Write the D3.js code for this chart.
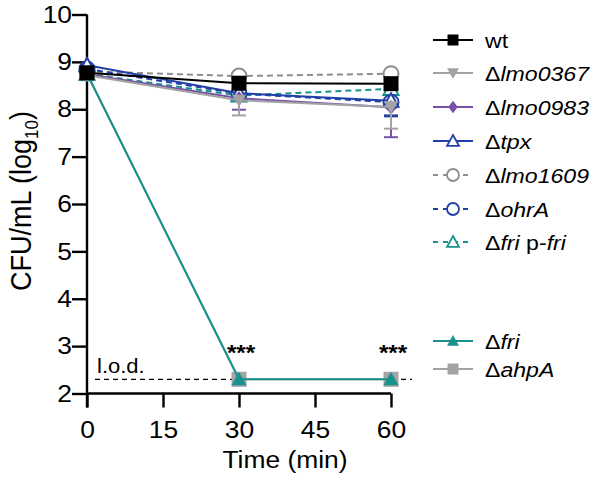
<!DOCTYPE html>
<html><head><meta charset="utf-8">
<script src="https://cdn.jsdelivr.net/npm/d3@7"></script>
<style>body{margin:0;background:#fff}svg{font-family:"Liberation Sans",Arial,sans-serif}</style>
</head><body><svg id="c" width="600" height="480"></svg>
<script>
const times = [0, 30, 60];
const xTicks = [0, 15, 30, 45, 60];
const yTicks = [2, 3, 4, 5, 6, 7, 8, 9, 10];
const seriesKeys = ["wt","lmo0367","lmo0983","tpx","lmo1609","ohrA","friComp","fri","ahpA"];
const wt      = [8.77, 8.55, 8.54];
const lmo0367 = [8.72, 8.19, 8.05];
const lmo0983 = [8.74, 8.23, 8.04];
const tpx     = [8.93, 8.34, 8.18];
const lmo1609 = [8.80, 8.70, 8.75];
const ohrA    = [8.85, 8.33, 8.15];
const friComp = [8.75, 8.29, 8.43];
const fri     = [8.75, 2.3, 2.3];
const ahpA    = [8.75, 2.3, 2.3];
const sd = {
  wt:[0.05,0.08,0.08], lmo0367:[0.05,0.32,0.46], lmo0983:[0.05,0.24,0.63], tpx:[0.05,0.12,0.33],
  lmo1609:[0.03,0.05,0.05], ohrA:[0.05,0.1,0.28], friComp:[0.03,0.08,0.1], fri:[0,0,0], ahpA:[0,0,0]
};
const values = {wt, lmo0367, lmo0983, tpx, lmo1609, ohrA, friComp, fri, ahpA};
const labels = {
  wt:[["wt",false]], lmo0367:[["Δ",false],["lmo0367",true]], lmo0983:[["Δ",false],["lmo0983",true]],
  tpx:[["Δ",false],["tpx",true]], lmo1609:[["Δ",false],["lmo1609",true]], ohrA:[["Δ",false],["ohrA",true]],
  friComp:[["Δ",false],["fri",true],[" p-",false],["fri",true]], fri:[["Δ",false],["fri",true]], ahpA:[["Δ",false],["ahpA",true]]
};
const lod = 2.3;
const sigTimes = [30, 60];
const sigLabel = "***";

const style = {
  wt:{color:"#000000", dash:null, shape:"square", fill:true},
  lmo0367:{color:"#a3a3a3", dash:null, shape:"tridown", fill:true},
  lmo0983:{color:"#7751a8", dash:null, shape:"diamond", fill:true},
  tpx:{color:"#2140a6", dash:null, shape:"triup", fill:false},
  lmo1609:{color:"#8e8e8e", dash:"6,4", shape:"circle", fill:false},
  ohrA:{color:"#2140a6", dash:"6,4", shape:"circle", fill:false},
  friComp:{color:"#17928c", dash:"6,4", shape:"triup", fill:false},
  fri:{color:"#17928c", dash:null, shape:"triup", fill:true},
  ahpA:{color:"#a3a3a3", dash:null, shape:"square", fill:true}
};
const SX = 1.1; // horizontal stretch of lettering seen in the reference

const svg = d3.select("#c");
const x = d3.scaleLinear().domain([0,60]).range([87,391]);
const y = d3.scaleLinear().domain([2,10]).range([393.5,14.5]);

function shapePath(shape, s){
  const h=s/2;
  if(shape==="square") return `M${-h},${-h}h${s}v${s}h${-s}Z`;
  if(shape==="circle") return d3.symbol(d3.symbolCircle, Math.PI*h*h)();
  if(shape==="diamond") return `M0,${-h*1.05}L${h*0.8},0L0,${h*1.05}L${-h*0.8},0Z`;
  if(shape==="triup") return `M0,${-h}L${h},${h*0.8}L${-h},${h*0.8}Z`;
  if(shape==="tridown") return `M0,${h}L${h},${-h*0.8}L${-h},${-h*0.8}Z`;
}
const markerSize = {square:15, circle:15, diamond:14, triup:15, tridown:14};

function label(px, py, size, anchor){
  return svg.append("text").attr("transform",`translate(${px},${py}) scale(${SX},1)`)
    .attr("font-size",size).attr("text-anchor",anchor||"start");
}

// l.o.d.
svg.append("line").attr("x1",x(0)+8).attr("x2",412).attr("y1",y(lod)).attr("y2",y(lod))
  .attr("stroke","#000").attr("stroke-width",1.2).attr("stroke-dasharray","5,4");
label(97, 373, 20).text("l.o.d.");

// axes
const yAxis = svg.append("g").attr("transform",`translate(${x(0)},0)`)
  .call(d3.axisLeft(y).tickValues(yTicks).tickSize(15).tickPadding(1).tickFormat(d3.format("d")));
const xAxis = svg.append("g").attr("transform",`translate(0,${y(2)})`)
  .call(d3.axisBottom(x).tickValues(xTicks).tickSize(14).tickPadding(13).tickFormat(d3.format("d")));
[yAxis,xAxis].forEach(g=>{
  g.select(".domain").attr("stroke-width",2.4);
  g.selectAll(".tick line").attr("stroke-width",2.4);
  g.selectAll("text").attr("font-size",24).attr("fill","#000").attr("font-family","Liberation Sans, Arial, sans-serif")
    .attr("transform",`scale(${SX},1)`);
});
yAxis.selectAll(".tick text").attr("x",-15/SX);
yAxis.select(".domain").attr("d",`M0,${y(10)}V${y(2)+14}`);
xAxis.select(".domain").attr("d",`M${x(0)},0H${x(60)}`);

// axis titles
label(285, 468, 24, "middle").text("Time (min)");
const yt = svg.append("text").attr("transform",`translate(31,201) scale(${SX},1) rotate(-90)`)
  .attr("text-anchor","middle").attr("font-size",27);
yt.append("tspan").text("CFU/mL (log");
yt.append("tspan").attr("font-size",17).attr("dy",6).text("10");
yt.append("tspan").attr("dy",-6).text(")");

// series
const drawOrder = ["ahpA","fri","lmo1609","friComp","ohrA","tpx","lmo0983","lmo0367","wt"];
const line = d3.line().x((d,i)=>x(times[i])).y(d=>y(d));
drawOrder.forEach(k=>{
  const st = style[k], v = values[k];
  const g = svg.append("g");
  v.forEach((d,i)=>{
    if(sd[k][i]>0){
      g.append("line").attr("x1",x(times[i])).attr("x2",x(times[i])).attr("y1",y(d)).attr("y2",y(d-sd[k][i]))
        .attr("stroke",st.color).attr("stroke-width",2);
      g.append("line").attr("x1",x(times[i])-7).attr("x2",x(times[i])+7).attr("y1",y(d-sd[k][i])).attr("y2",y(d-sd[k][i]))
        .attr("stroke",st.color).attr("stroke-width",2);
    }
  });
  g.append("path").attr("d",line(v)).attr("fill","none").attr("stroke",st.color).attr("stroke-width",2)
    .attr("stroke-dasharray",st.dash);
  v.forEach((d,i)=>{
    g.append("path").attr("d",shapePath(st.shape,markerSize[st.shape]))
      .attr("transform",`translate(${x(times[i])},${y(d)})`)
      .attr("fill",st.fill?st.color:"#fff").attr("stroke",st.color).attr("stroke-width",st.fill?0:2);
  });
});

// significance
sigTimes.forEach(t=>{
  label(x(t)+2, y(lod)-19, 22, "middle").attr("font-weight","bold").text(sigLabel);
});

// legend
const legendY = {wt:40,lmo0367:73,lmo0983:107,tpx:141,lmo1609:175,ohrA:209,friComp:242,fri:341,ahpA:369};
seriesKeys.forEach(k=>{
  const st=style[k], yy=legendY[k];
  const g = svg.append("g");
  g.append("line").attr("x1",433).attr("x2",473).attr("y1",yy).attr("y2",yy).attr("stroke",st.color)
    .attr("stroke-width",2).attr("stroke-dasharray",st.dash?"5,5":null);
  g.append("path").attr("d",shapePath(st.shape, st.shape==="square"?11:12)).attr("transform",`translate(453,${yy})`)
    .attr("fill",st.fill?st.color:"#fff").attr("stroke",st.color).attr("stroke-width",st.fill?0:1.8);
  const t = label(485, yy+8, 21);
  labels[k].forEach(([s,it])=>t.append("tspan").attr("font-style",it?"italic":"normal").text(s));
});
</script></body></html>
